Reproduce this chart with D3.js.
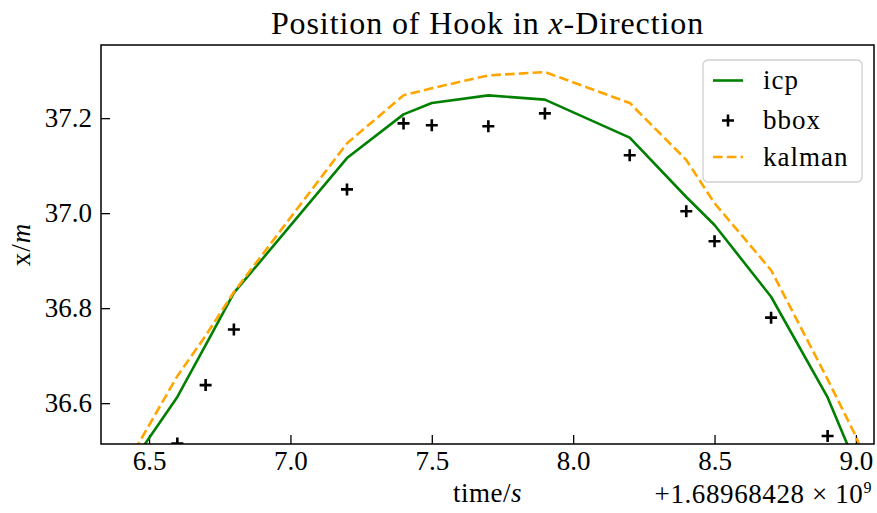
<!DOCTYPE html>
<html>
<head>
<meta charset="utf-8">
<script src="https://cdn.jsdelivr.net/npm/d3@7"></script>
<style>
  body { margin: 0; background: #fff; }
  svg { display: block; }
  text { font-family: "Liberation Serif", "DejaVu Serif", serif; fill: #000; }
</style>
</head>
<body>
<svg id="chart" width="877" height="513"></svg>
<script>
// ---- data (time offsets relative to 1.68968428e9 s) ----
const lineTimes = [6.4, 6.6, 6.7, 6.8, 7.2, 7.4, 7.5, 7.7, 7.9, 8.2, 8.4, 8.5, 8.7, 8.9, 9.0, 9.1];
const icpValues = [36.44, 36.613, 36.722, 36.832, 37.116, 37.208, 37.232, 37.248, 37.239, 37.159, 37.034, 36.975, 36.824, 36.612, 36.47, 36.33];
const kalmanValues = [36.45, 36.657, 36.742, 36.834, 37.147, 37.248, 37.263, 37.290, 37.297, 37.232, 37.112, 37.021, 36.88, 36.65, 36.53, 36.38];
const bboxTimes = [6.6, 6.7, 6.8, 7.2, 7.4, 7.5, 7.7, 7.9, 8.2, 8.4, 8.5, 8.7, 8.9];
const bboxValues = [36.515, 36.638, 36.755, 37.050, 37.189, 37.185, 37.183, 37.210, 37.122, 37.004, 36.941, 36.780, 36.531];
const xTicks = [6.5, 7.0, 7.5, 8.0, 8.5, 9.0];
const yTicks = [36.6, 36.8, 37.0, 37.2];
const xDomain = [6.330, 9.064];
const yDomain = [36.514, 37.354];
const legendLabels = ["icp", "bbox", "kalman"];

// ---- layout ----
const svg = d3.select("#chart");
const W = 877, H = 513;
const L = 101, R = 874, T = 45, B = 444;
svg.append("rect").attr("width", W).attr("height", H).attr("fill", "#fff");

const x = d3.scaleLinear().domain(xDomain).range([L, R]);
const y = d3.scaleLinear().domain(yDomain).range([B, T]);

svg.append("defs").append("clipPath").attr("id", "clip")
  .append("rect").attr("x", L).attr("y", T).attr("width", R - L).attr("height", B - T);

const FS = 27;

// axes
const xAxis = d3.axisBottom(x).tickValues(xTicks).tickFormat(d3.format(".1f"))
  .tickSizeInner(-9).tickSizeOuter(0).tickPadding(7);
const gx = svg.append("g").attr("transform", `translate(0,${B})`).call(xAxis);
gx.select(".domain").remove();
gx.selectAll(".tick line").attr("stroke", "#000").attr("stroke-width", 1.3);
gx.selectAll(".tick text").attr("font-size", FS).attr("font-family", "Liberation Serif");

const yAxis = d3.axisLeft(y).tickValues(yTicks).tickFormat(d3.format(".1f"))
  .tickSizeInner(-9).tickSizeOuter(0).tickPadding(9);
const gy = svg.append("g").attr("transform", `translate(${L},0)`).call(yAxis);
gy.select(".domain").remove();
gy.selectAll(".tick line").attr("stroke", "#000").attr("stroke-width", 1.3);
gy.selectAll(".tick text").attr("font-size", FS).attr("font-family", "Liberation Serif");

// plot
const plot = svg.append("g").attr("clip-path", "url(#clip)");
const icpData = lineTimes.map((t, i) => [t, icpValues[i]]);
const kalData = lineTimes.map((t, i) => [t, kalmanValues[i]]);
const line = d3.line().x(d => x(d[0])).y(d => y(d[1]));

plot.append("path").datum(icpData).attr("d", line)
  .attr("fill", "none").attr("stroke", "#008000").attr("stroke-width", 2.6)
  .attr("stroke-linejoin", "round");

const bbox = bboxTimes.map((t, i) => [t, bboxValues[i]]);
const ms = 6;
plot.selectAll(".bb").data(bbox).enter().append("path")
  .attr("d", d => `M${x(d[0]) - ms},${y(d[1])}H${x(d[0]) + ms}M${x(d[0])},${y(d[1]) - ms}V${y(d[1]) + ms}`)
  .attr("stroke", "#000").attr("stroke-width", 2.6).attr("fill", "none");

plot.append("path").datum(kalData).attr("d", line)
  .attr("fill", "none").attr("stroke", "#FFA500").attr("stroke-width", 2.6)
  .attr("stroke-dasharray", "9.6,4.2");

// frame
svg.append("rect").attr("x", L).attr("y", T).attr("width", R - L).attr("height", B - T)
  .attr("fill", "none").attr("stroke", "#000").attr("stroke-width", 1.5);

// title
const title = svg.append("text").attr("x", (L + R) / 2).attr("y", 34)
  .attr("text-anchor", "middle").attr("font-size", 32).attr("letter-spacing", 0.9);
title.append("tspan").text("Position of Hook in ");
title.append("tspan").attr("font-style", "italic").text("x");
title.append("tspan").text("-Direction");

// x label
const xl = svg.append("text").attr("x", (L + R) / 2).attr("y", 502)
  .attr("text-anchor", "middle").attr("font-size", FS).attr("letter-spacing", 0.5);
xl.append("tspan").text("time/");
xl.append("tspan").attr("font-style", "italic").text("s");

// offset text
const off = svg.append("text").attr("x", R - 2).attr("y", 503)
  .attr("text-anchor", "end").attr("font-size", FS).attr("letter-spacing", 0.6);
off.append("tspan").text("+1.68968428 × 10");
off.append("tspan").attr("font-size", 16).attr("dy", -10).text("9");

// y label
const yl = svg.append("text").attr("transform", `translate(30,${(T + B) / 2}) rotate(-90)`)
  .attr("text-anchor", "middle").attr("font-size", FS).attr("letter-spacing", 1);
yl.append("tspan").text("x/");
yl.append("tspan").attr("font-style", "italic").text("m");

// legend
const lg = svg.append("g");
lg.append("rect").attr("x", 703).attr("y", 60).attr("width", 159).attr("height", 122)
  .attr("rx", 5).attr("fill", "#fff").attr("fill-opacity", 0.8)
  .attr("stroke", "#d0d0d0").attr("stroke-width", 1.3);
const rowY = [80.5, 120.5, 157];
lg.append("line").attr("x1", 713).attr("x2", 743).attr("y1", rowY[0]).attr("y2", rowY[0])
  .attr("stroke", "#008000").attr("stroke-width", 2.6);
lg.append("path").attr("d", `M${728 - ms},${rowY[1]}H${728 + ms}M728,${rowY[1] - ms}V${rowY[1] + ms}`)
  .attr("stroke", "#000").attr("stroke-width", 2.6);
lg.append("line").attr("x1", 713).attr("x2", 743).attr("y1", rowY[2]).attr("y2", rowY[2])
  .attr("stroke", "#FFA500").attr("stroke-width", 2.6).attr("stroke-dasharray", "9.6,4.2");
legendLabels.forEach((lab, i) => {
  lg.append("text").attr("x", 763).attr("y", rowY[i]).attr("dy", "0.33em")
    .attr("font-size", FS).attr("letter-spacing", 1).text(lab);
});
</script>
</body>
</html>
